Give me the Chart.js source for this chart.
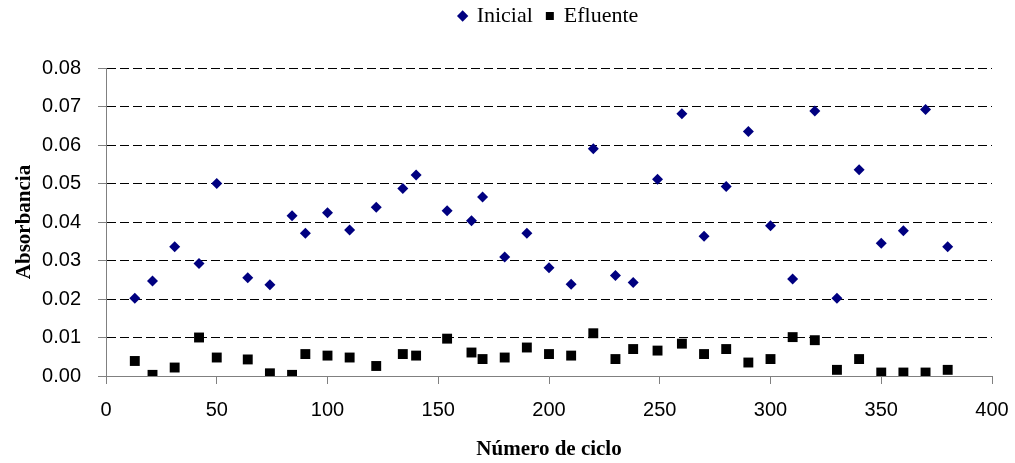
<!DOCTYPE html>
<html>
<head>
<meta charset="utf-8">
<script src="https://cdn.jsdelivr.net/npm/chart.js@4"></script>
<style>
  html, body { margin: 0; padding: 0; background: #fff; }
</style>
</head>
<body>
<canvas id="absorbancia" width="1015" height="463"></canvas>
<script>
// Número de ciclo (eje X) y absorbancia de cada muestra
const ciclos = [13, 21, 31, 42, 50, 64, 74, 84, 90, 100, 110, 122, 134, 140, 154, 165, 170, 180, 190, 200,
    210, 220, 230, 238, 249, 260, 270, 280, 290, 300, 310, 320, 330, 340, 350, 360, 370, 380]
const inicial = [0.0202, 0.0247, 0.0336, 0.0292, 0.0500, 0.0255, 0.0237, 0.0416, 0.0371, 0.0424, 0.0379, 0.0438,
    0.0487, 0.0522, 0.0429, 0.0403, 0.0465, 0.0309, 0.0371, 0.0281, 0.0238, 0.0590, 0.0261, 0.0243, 0.0511,
    0.0681, 0.0363, 0.0492, 0.0635, 0.0390, 0.0252, 0.0688, 0.0202, 0.0536, 0.0345, 0.0377, 0.0692, 0.0336]
const efluente = [0.0039, 0.0003, 0.0022, 0.0100, 0.0048, 0.0043, 0.0007, 0.0003, 0.0057, 0.0053, 0.0048, 0.0026,
    0.0057, 0.0053, 0.0097, 0.0061, 0.0044, 0.0048, 0.0074, 0.0057, 0.0053, 0.0111, 0.0044, 0.0070, 0.0066,
    0.0084, 0.0057, 0.0070, 0.0035, 0.0044, 0.0101, 0.0093, 0.0016, 0.0044, 0.0009, 0.0009, 0.0009, 0.0016]

const serif = "'Liberation Serif', 'Times New Roman', serif"
const sans = "'Liberation Sans', Arial, sans-serif"

// Espacio extra bajo la leyenda y leyenda centrada sobre el área del gráfico
const legendGap = {
    id: 'legendGap',
    beforeInit(chart) {
        const fit = chart.legend.fit
        chart.legend.fit = function () {
            fit.bind(chart.legend)()
            this.height += 31
        }
    },
    afterLayout(chart) {
        chart.legend.left = chart.chartArea.left
        chart.legend.right = chart.chartArea.right
    }
}

const data = {
    datasets: [{
        label: 'Inicial',
        data: ciclos.map((c, i) => ({x: c, y: inicial[i]})),
        pointStyle: 'rectRot',
        pointRadius: 5.5,
        pointBorderWidth: 0,
        backgroundColor: '#000080',
        borderColor: '#000080',
    }, {
        label: 'Efluente',
        data: ciclos.map((c, i) => ({x: c, y: efluente[i]})),
        pointStyle: 'rect',
        pointRadius: 7,
        pointBorderWidth: 0,
        backgroundColor: '#000000',
        borderColor: '#000000',
    }]
}

const config = {
    type: 'scatter',
    data: data,
    options: {
        responsive: false,
        animation: false,
        devicePixelRatio: 1,
        layout: {padding: {top: -9, right: 23, bottom: 0, left: 0}},
        plugins: {
            tooltip: {enabled: false},
            legend: {
                position: 'top',
                labels: {
                    usePointStyle: true,
                    boxWidth: 6,
                    boxHeight: 8,
                    padding: 14,
                    color: '#000',
                    font: {family: serif, size: 22}
                }
            }
        },
        scales: {
            x: {
                type: 'linear',
                min: 0,
                max: 400,
                afterFit: scale => {
                    scale.height = 87
                    scale.paddingLeft = 0
                    scale.paddingRight = 0
                },
                ticks: {stepSize: 50, color: '#000', padding: 14, font: {family: sans, size: 20}},
                grid: {drawOnChartArea: false, tickLength: 8, tickColor: '#808080'},
                border: {color: '#808080'},
                title: {
                    display: true,
                    text: 'Número de ciclo',
                    color: '#000',
                    padding: {top: 0, bottom: 1},
                    font: {family: serif, size: 21, weight: 'bold'}
                }
            },
            y: {
                min: 0,
                max: 0.08,
                afterFit: scale => { scale.width = 106 },
                ticks: {
                    stepSize: 0.01,
                    color: '#000',
                    padding: 17,
                    font: {family: sans, size: 20},
                    callback: v => v.toFixed(2)
                },
                grid: {
                    color: ctx => ctx.tick && ctx.tick.value === 0 ? 'rgba(0,0,0,0)' : '#000',
                    tickLength: 8,
                    tickColor: '#808080'
                },
                border: {color: '#808080', dash: [9, 4]},
                title: {
                    display: true,
                    text: 'Absorbancia',
                    color: '#000',
                    padding: {top: 12, bottom: 0},
                    font: {family: serif, size: 21, weight: 'bold'}
                }
            }
        }
    },
    plugins: [legendGap]
}

const ctx = document.getElementById('absorbancia').getContext('2d')
new Chart(ctx, config)
</script>
</body>
</html>
